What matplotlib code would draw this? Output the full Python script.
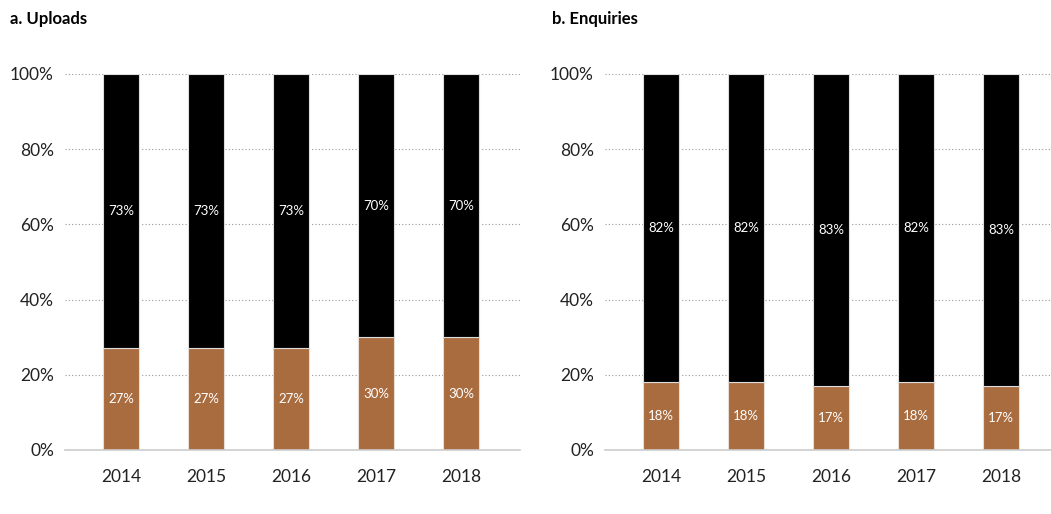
import numpy as np
import matplotlib.pyplot as plt

years = ["2014", "2015", "2016", "2017", "2018"]
uploads_low = [27, 27, 27, 30, 30]
uploads_high = [73, 73, 73, 70, 70]
enq_low = [18, 18, 17, 18, 17]
enq_high = [82, 82, 83, 82, 83]

brown = "#a96c3f"
plt.rcParams['font.family'] = ['Lato', 'DejaVu Sans']

fig = plt.figure(figsize=(10.51, 5.14), dpi=100)
axl = fig.add_axes([65/1051, 1-450/514, 455/1051, 376/514])
axr = fig.add_axes([605/1051, 1-450/514, 455/1051, 376/514])


def draw(ax, low, high, title, tx):
    x = np.arange(len(years))
    ax.bar(x, low, width=0.42, color=brown, edgecolor="#e8ddd4", linewidth=0.8, zorder=3)
    ax.bar(x, high, width=0.42, bottom=low, color="black", edgecolor="#dddddd", linewidth=0.8, zorder=3)
    for i in range(len(x)):
        ax.text(x[i], low[i] / 2, str(low[i]) + "%", ha="center", va="center", color="white", fontsize=9.5, zorder=4)
        ax.text(x[i], low[i] + high[i] / 2, str(high[i]) + "%", ha="center", va="center", color="white", fontsize=9.5, zorder=4)
    ax.set_xlim(-0.66, 4.69)
    ax.set_ylim(0, 100)
    ax.set_yticks([0, 20, 40, 60, 80, 100])
    ax.set_yticklabels(["0%", "20%", "40%", "60%", "80%", "100%"])
    ax.set_xticks(x)
    ax.set_xticklabels(years)
    ax.tick_params(length=0, labelsize=12.5, colors="#222222")
    ax.tick_params(axis="x", pad=14)
    ax.tick_params(axis="y", pad=8)
    ax.yaxis.grid(True, linestyle=(0, (1, 2)), color="#999999", linewidth=0.8, zorder=0)
    for s in ["top", "right", "left"]:
        ax.spines[s].set_visible(False)
    ax.spines["bottom"].set_color("#cccccc")
    ax.spines["bottom"].set_linewidth(1.2)
    ax.spines["bottom"].set_zorder(5)
    fig.text(tx, 1 - 19/514, title, fontsize=12, fontweight="bold", va="center", ha="left")


draw(axl, uploads_low, uploads_high, "a. Uploads", 10/1051)
draw(axr, enq_low, enq_high, "b. Enquiries", 552/1051)

fig.savefig("out.png", dpi=100)
